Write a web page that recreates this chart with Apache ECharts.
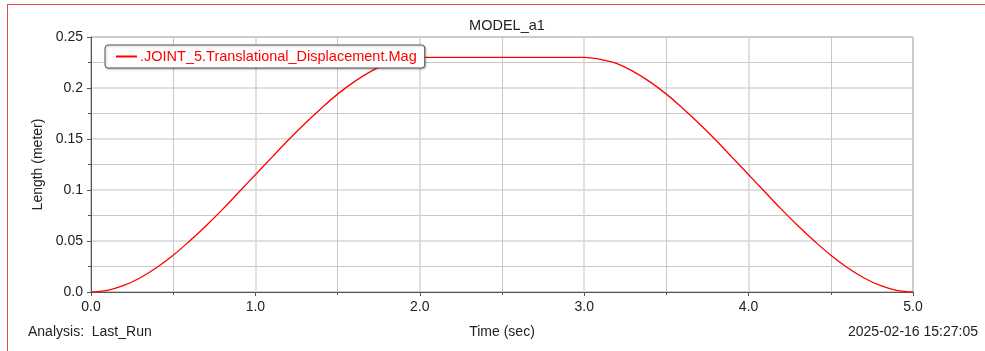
<!DOCTYPE html>
<html>
<head>
<meta charset="utf-8">
<script src="https://cdn.jsdelivr.net/npm/echarts@6/dist/echarts.min.js"></script>
<style>
  html, body { margin: 0; padding: 0; background: #fff; }
  #main { width: 985px; height: 351px; }
</style>
</head>
<body>
<div id="main"></div>
<script>
// time (sec), every 0.1 s
var times = [0.0, 0.1, 0.2, 0.3, 0.4, 0.5, 0.6, 0.7, 0.8, 0.9,
             1.0, 1.1, 1.2, 1.3, 1.4, 1.5, 1.6, 1.7, 1.8, 1.9,
             2.0, 2.5, 3.0, 3.1, 3.2, 3.3, 3.4, 3.5, 3.6, 3.7,
             3.8, 3.9, 4.0, 4.1, 4.2, 4.3, 4.4, 4.5, 4.6, 4.7,
             4.8, 4.9, 5.0];
// displacement magnitude (meter)
var displacement = [0.0, 0.0017, 0.0064, 0.014, 0.024, 0.036, 0.050, 0.065, 0.081, 0.098,
                    0.115, 0.132, 0.149, 0.165, 0.180, 0.194, 0.206, 0.216, 0.224, 0.228,
                    0.23, 0.23, 0.23, 0.228, 0.224, 0.216, 0.206, 0.194, 0.180, 0.165,
                    0.149, 0.132, 0.115, 0.098, 0.081, 0.065, 0.050, 0.036, 0.024, 0.014,
                    0.0064, 0.0017, 0.0];
var seriesName = ".JOINT_5.Translational_Displacement.Mag";

var chart = echarts.init(document.getElementById("main"));
var pts = times.map(function (t, i) { return [t, displacement[i]]; });
var font = "Liberation Sans, Arial, sans-serif";

var option = {
  backgroundColor: "#fff",
  animation: false,
  textStyle: { fontFamily: font },
  title: {
    text: "MODEL_a1",
    left: 502, top: 13,
    textAlign: "center",
    textStyle: { fontSize: 14.5, fontWeight: "normal", color: "#222", fontFamily: font }
  },
  legend: {
    left: 105, top: 45,
    padding: [4, 8, 4, 11],
    backgroundColor: "#fff",
    borderColor: "#555",
    borderWidth: 1,
    borderRadius: 3,
    shadowColor: "rgba(0,0,0,0.25)",
    shadowBlur: 2,
    shadowOffsetX: 1,
    shadowOffsetY: 1,
    itemWidth: 21,
    itemHeight: 2,
    itemGap: 3,
    icon: "rect",
    textStyle: { color: "#ff0000", fontSize: 14.5, fontFamily: font, padding: [0, 0, 0, -2] },
    data: [seriesName]
  },
  grid: {
    left: 91, right: 72, top: 37, bottom: 59,
    show: true,
    borderColor: "#555",
    borderWidth: 1
  },
  xAxis: {
    type: "value",
    min: 0, max: 5, interval: 1,
    name: "Time (sec)",
    nameLocation: "middle",
    nameGap: 33,
    nameTextStyle: { fontSize: 14, color: "#222" },
    axisLine: { show: true, lineStyle: { color: "#555" } },
    axisTick: { show: true, length: 4, lineStyle: { color: "#555" } },
    minorTick: { show: true, splitNumber: 2, length: 3, lineStyle: { color: "#555" } },
    splitLine: { show: true, lineStyle: { color: "#d6d6d6", width: 1.5 } },
    minorSplitLine: { show: true, lineStyle: { color: "#c8c8c8", width: 1 } },
    axisLabel: {
      margin: 8, fontSize: 14, color: "#222",
      formatter: function (v) { return v.toFixed(1); }
    }
  },
  yAxis: {
    type: "value",
    min: 0, max: 0.25, interval: 0.05,
    name: "Length (meter)",
    nameLocation: "middle",
    nameGap: 46,
    nameRotate: 90,
    nameTextStyle: { fontSize: 14, color: "#222" },
    axisLine: { show: true, lineStyle: { color: "#555" } },
    axisTick: { show: true, length: 4, lineStyle: { color: "#555" } },
    minorTick: { show: true, splitNumber: 2, length: 3, lineStyle: { color: "#555" } },
    splitLine: { show: true, lineStyle: { color: "#d6d6d6", width: 1.5 } },
    minorSplitLine: { show: true, lineStyle: { color: "#c8c8c8", width: 1 } },
    axisLabel: {
      margin: 8, fontSize: 14, color: "#222",
      formatter: function (v) { return v === 0 ? "0.0" : String(+v.toFixed(2)); }
    }
  },
  graphic: [
    { type: "line", shape: { x1: 7, y1: 4.5, x2: 985, y2: 4.5 }, style: { stroke: "#f04848", lineWidth: 1 } },
    { type: "line", shape: { x1: 7.5, y1: 4, x2: 7.5, y2: 351 }, style: { stroke: "#e05050", lineWidth: 1 } },
    { type: "text", left: 28, top: 325, style: { text: "Analysis:  Last_Run", fontSize: 14, fill: "#222", font: "14px " + font } },
    { type: "text", right: 7, top: 325, style: { text: "2025-02-16 15:27:05", fontSize: 14, fill: "#222", font: "14px " + font } }
  ],
  series: [{
    name: seriesName,
    type: "line",
    data: pts,
    smooth: 0.4,
    showSymbol: false,
    symbol: "none",
    color: "#ff0000",
    lineStyle: { color: "#ff0000", width: 1.3 }
  }]
};
option && chart.setOption(option);
</script>
</body>
</html>
